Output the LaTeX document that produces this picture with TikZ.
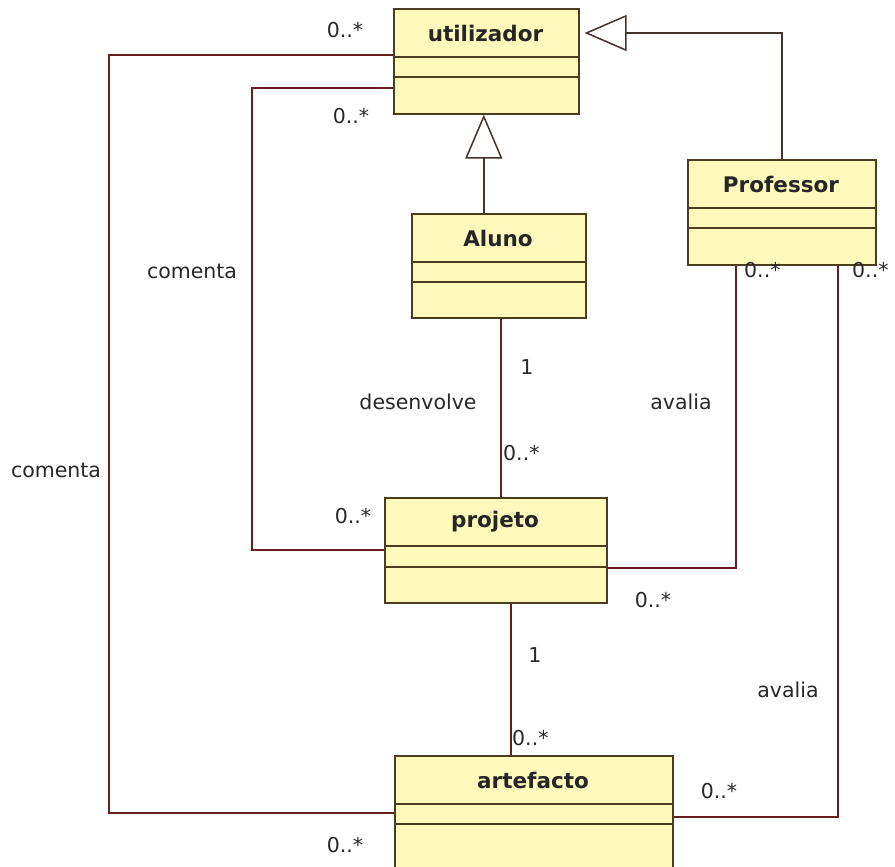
\documentclass[tikz,border=0pt]{standalone}
\usepackage{fontspec}
\setmainfont{DejaVu Sans}
\usetikzlibrary{arrows.meta,calc}
\definecolor{boxfill}{RGB}{255,250,188}
\definecolor{boxline}{RGB}{78,60,30}
\definecolor{linkc}{RGB}{102,30,30}
\definecolor{genc}{RGB}{70,50,45}
\definecolor{textc}{RGB}{40,40,40}
\begin{document}
\begin{tikzpicture}[x=1pt,y=-1pt,
  classbox/.style={draw=boxline, fill=boxfill, line width=1.6pt, inner sep=0pt, anchor=north west},
  classname/.style={font=\fontsize{21.5}{24}\selectfont\bfseries, text=black!85, inner sep=0pt},
  sepline/.style={draw=boxline, line width=1.6pt},
  assoc/.style={draw=linkc, line width=1.6pt},
  gen/.style={draw=genc, line width=1.6pt},
  lbl/.style={font=\fontsize{20.5}{24}\selectfont, text=textc, inner sep=0pt}
]
\path[use as bounding box] (0,0) rectangle (895,867);
\fill[white] (0,0) rectangle (895,867);
\clip (0,0) rectangle (895,867);

% class boxes
\node[classbox, minimum width=185pt, minimum height=105pt] (util) at (393,8) {};
\node[classbox, minimum width=188pt, minimum height=105pt] (prof) at (687,159) {};
\node[classbox, minimum width=174pt, minimum height=104pt] (aluno) at (411,213) {};
\node[classbox, minimum width=222pt, minimum height=105pt] (proj) at (384,497) {};
\node[classbox, minimum width=278pt, minimum height=120pt] (art) at (394,755) {};

% compartment separators
\foreach \c/\a/\b in {util/49/69, prof/49/69, aluno/49/69, proj/49/70, art/49/69}{
  \draw[sepline] ([yshift=-\a pt]\c.north west) -- ([yshift=-\a pt]\c.north east);
  \draw[sepline] ([yshift=-\b pt]\c.north west) -- ([yshift=-\b pt]\c.north east);
}

% class names
\node[classname] (utilname) at (485.5,33) {utilizador};
\node[classname] (profname) at (781,184) {Professor};
\node[classname] (alunoname) at (498,238) {Aluno};
\node[classname] (projname) at (495,522) {projeto};
\node[classname] (artname) at (533,780) {artefacto};

% attachment points
\coordinate (uA) at ([yshift=-47pt]util.north west);
\coordinate (uB) at ([yshift=-80pt]util.north west);
\coordinate (pL) at ([yshift=-53pt]proj.north west);
\coordinate (pR) at ([yshift=-71pt]proj.north east);
\coordinate (pB) at ([xshift=15pt]proj.south);
\coordinate (aL) at ([yshift=-58pt]art.north west);
\coordinate (aR) at ([yshift=-62pt]art.north east);
\coordinate (fA) at ([xshift=49pt]prof.south west);
\coordinate (fB) at ([xshift=151pt]prof.south west);
\coordinate (alB) at ([xshift=2pt]aluno.south);
\coordinate (alT) at ([xshift=-15pt]aluno.north);
\coordinate (uBot) at (alT |- util.south);
\coordinate (uTri) at ([xshift=5pt,yshift=-25pt]util.north east);
\coordinate (outerX) at (109,0);
\coordinate (innerX) at (252,0);

% generalizations
\draw[gen, -{Triangle[open, length=44pt, width=37pt, line width=1.5pt]}] (alT) -- (uBot);
\draw[gen, -{Triangle[open, length=42pt, width=36pt, line width=1.5pt]}] (prof.north) -- (prof.north |- uTri) -- (uTri);

% associations
\draw[assoc] (uA) -- (uA -| outerX) -- (aL -| outerX) -- (aL);
\draw[assoc] (uB) -- (uB -| innerX) -- (pL -| innerX) -- (pL);
\draw[assoc] (alB) -- (alB |- proj.north);
\draw[assoc] (pB) -- (pB |- art.north);
\draw[assoc] (fA) -- (fA |- pR) -- (pR);
\draw[assoc] (fB) -- (fB |- aR) -- (aR);

% association labels and multiplicities
\node[lbl] (m1) at (345,30) {0..*};
\node[lbl] (m2) at (351,116) {0..*};
\node[lbl] (c1) at (192,271) {comenta};
\node[lbl] (c2) at (56,470) {comenta};
\node[lbl] (one1) at (527,367) {1};
\node[lbl] (dev) at (418,402) {desenvolve};
\node[lbl, anchor=west] (m3) at (503,453) {0..*};
\node[lbl] (av1) at (681,402) {avalia};
\node[lbl, anchor=west] (m4) at (744,270) {0..*};
\node[lbl, anchor=west] (m5) at (852,270) {0..*};
\node[lbl] (m6) at (353,516) {0..*};
\node[lbl] (m7) at (653,600) {0..*};
\node[lbl] (one2) at (535,655) {1};
\node[lbl, anchor=west] (m8) at (512,738) {0..*};
\node[lbl] (av2) at (788,690) {avalia};
\node[lbl] (m9) at (719,791) {0..*};
\node[lbl] (m10) at (345,845) {0..*};
\end{tikzpicture}
\end{document}
